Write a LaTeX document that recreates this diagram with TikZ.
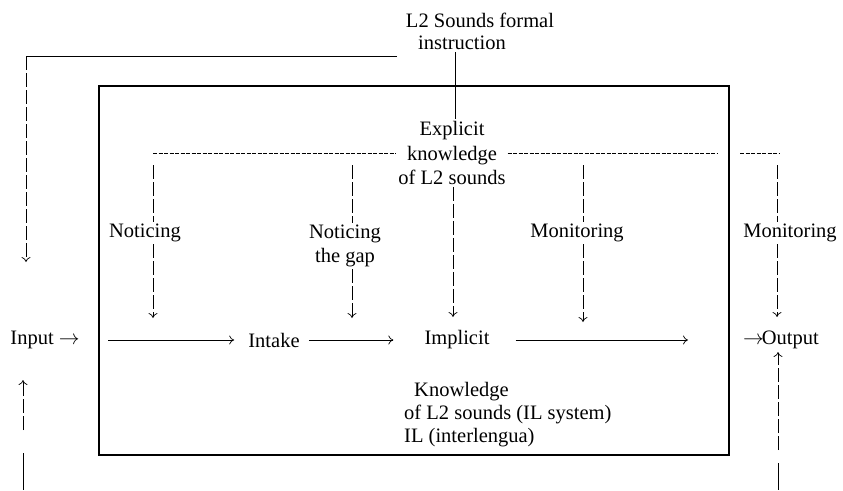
\documentclass[tikz,border=0pt]{standalone}
\usepackage{fontspec}
\setmainfont{Liberation Serif}
\usetikzlibrary{arrows.meta}

\begin{document}
\begin{tikzpicture}[x=1pt, y=-1pt, >={To[length=5pt,width=9pt]},
    txt/.style={inner sep=2pt, font=\fontsize{20.5}{24.5}\selectfont, align=center},
    link/.style={line width=0.7pt, dash pattern=on 14pt off 3pt},
    fine/.style={line width=0.7pt, dash pattern=on 4pt off 1.5pt},
    flow/.style={line width=0.7pt, ->}]
    \useasboundingbox (0,0) rectangle (843,490);
    \draw[line width=1.4pt] (99,86) rectangle (729,455);
    \node[txt] (title) at (480,20) {L2 Sounds formal};
    \node[txt] (instr) at (462,43) {instruction};
    \node[txt] (expl) at (452,153) {Explicit\\knowledge\\of L2 sounds};
    \node[txt] (notice) at (145,233) {Noticing};
    \node[txt] (gap) at (345,246) {Noticing\\the gap};
    \node[txt] (mon) at (577,233) {Monitoring};
    \node[txt] (monout) at (790,233) {Monitoring};
    \node[txt] (input) at (45,340) {Input $\rightarrow$};
    \node[txt] (intake) at (274,340) {Intake};
    \node[txt] (impl) at (457,340) {Implicit};
    \node[txt] (output) at (781,340) {$\rightarrow$\kern-2ptOutput};
    \node[txt, anchor=west, align=left, font=\fontsize{20.5}{23}\selectfont] (know) at (402,415)
      {\hspace*{10pt}Knowledge\\of L2 sounds (IL system)\\IL (interlengua)};
    \coordinate (fb) at (397,56);
    \coordinate (fbc) at (26,56);
    \coordinate (fbe) at (26,262);
    \coordinate (dl) at (153,153);
    \coordinate (dr) at (717,153);
    \coordinate (n1) at (153,165);
    \coordinate (n2) at (352,165);
    \coordinate (m1) at (583,165);
    \coordinate (m2) at (777,165);
    \draw[line width=0.7pt] (fb) -- (fbc);
    \draw[flow, link] (fbc) -- (fbe);
    \draw[line width=0.7pt] (instr.south -| 455,0) -- (expl.north -| 455,0);
    \draw[fine] (dl) -- (expl.west);
    \draw[fine] (expl.east) -- (dr);
    \draw[fine] (740,153) -- (780,153);
    \draw[link] (n1) -- (n1 |- notice.north);
    \draw[flow, link] (n1 |- notice.south) -- (153,318);
    \draw[link] (n2) -- (n2 |- gap.north);
    \draw[flow, link] (n2 |- gap.south) -- (352,318);
    \draw[flow, link] (expl.south -| 453,0) -- (453,317);
    \draw[link] (m1) -- (m1 |- mon.north);
    \draw[flow, link] (m1 |- mon.south) -- (583,322);
    \draw[link] (m2) -- (m2 |- monout.north);
    \draw[flow, link] (m2 |- monout.south) -- (777,317);
    \draw[flow, shorten >=12pt] (108,340) -- (intake.west);
    \draw[flow, shorten <=7pt, shorten >=29pt] (intake.east) -- (impl.west);
    \draw[flow, shorten <=24pt] (impl.east) -- (688,340);
    \draw[flow, link] (23,430) -- (23,380);
    \draw[line width=0.7pt] (23,453) -- (23,490);
    \draw[flow, link] (778,450) -- (778,352);
    \draw[line width=0.7pt] (778,463) -- (778,490);
\end{tikzpicture}
\end{document}
